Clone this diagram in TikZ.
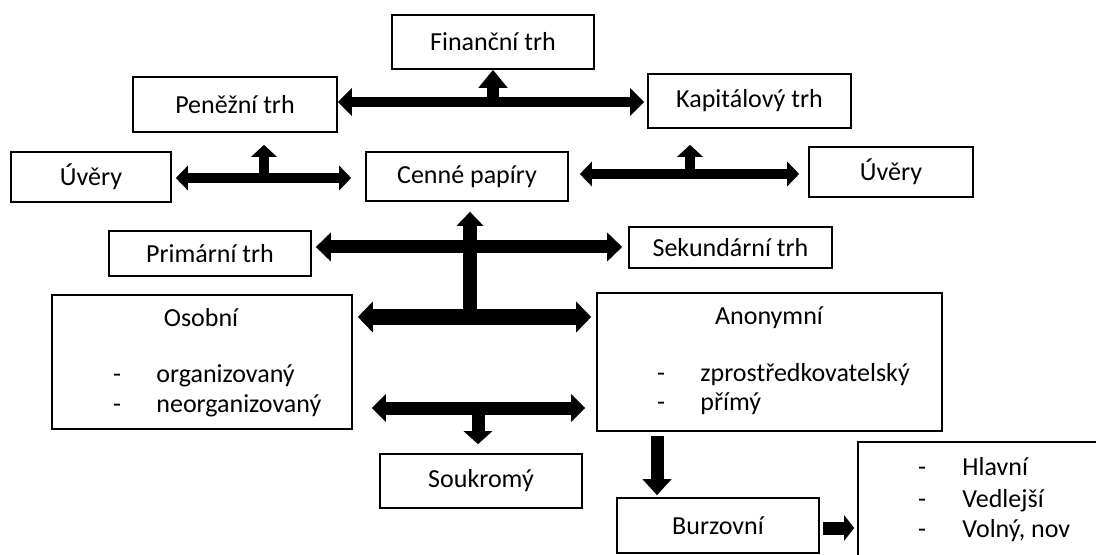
\documentclass[tikz,border=0pt]{standalone}
\usepackage{fontspec}
\setmainfont{Carlito}
\usetikzlibrary{arrows.meta}

\tikzset{
    trhbox/.style={draw, line width=0.8pt, inner sep=0pt, font=\fontsize{13}{15}\selectfont},
    trhtext/.style={inner sep=0pt, font=\fontsize{13}{15}\selectfont},
    trhboth/.style n args={3}{line width=#1pt, {Triangle[width=#2pt,length=#3pt]}-{Triangle[width=#2pt,length=#3pt]}},
    trhone/.style n args={3}{line width=#1pt, -{Triangle[width=#2pt,length=#3pt]}},
}
% box from its two corners (pixels of the sketch)
\newcommand{\trhBox}[6]{%
    \node[trhbox, minimum width={(#4-#2)/2}, minimum height={(#5-#3)/2}] (#1) at ({(#2+#4)/2},{(#3+#5)/2}) {#6};
}

\begin{document}
\begin{tikzpicture}[x=0.5pt, y=-0.5pt]
    \useasboundingbox (0,0) rectangle (1096,555);
    \clip (0,0) rectangle (1096,555);

    \trhBox{financni}{392}{15}{594}{69}{Finanční trh}
    \trhBox{penezni}{133}{77}{337}{132}{Peněžní trh}
    \trhBox{kapital}{648}{74}{851}{128}{Kapitálový trh}
    \trhBox{uverL}{11}{152}{171}{202}{Úvěry}
    \trhBox{cenne}{366}{152}{568}{201}{Cenné papíry}
    \trhBox{uverR}{809}{147}{973}{197}{Úvěry}
    \trhBox{primar}{109}{231}{311}{276}{Primární trh}
    \trhBox{sekund}{629}{227}{832}{268}{Sekundární trh}
    \trhBox{osobni}{52}{295}{352}{429}{}
    \trhBox{anonym}{597}{293}{942}{431}{}
    \trhBox{soukrom}{380}{454}{582}{508}{Soukromý}
    \trhBox{burzov}{617}{498}{819}{553}{Burzovní}
    \trhBox{typy}{858}{442}{1120}{580}{}

    % texts of the big boxes
    \node[trhtext, anchor=base] (osobniT) at (201,327) {Osobní};
    \foreach \n/\y/\t in {1/382/organizovaný, 2/412/neorganizovaný} {
        \node[trhtext, anchor=base] (osobniD\n) at (117,\y) {-};
        \node[trhtext, anchor=base west] (osobni\n) at (156,\y) {\t};
    }
    \node[trhtext, anchor=base] (anonymT) at (769,325) {Anonymní};
    \foreach \n/\y/\t in {1/381/zprostředkovatelský, 2/410/přímý} {
        \node[trhtext, anchor=base] (anonymD\n) at (661,\y) {-};
        \node[trhtext, anchor=base west] (anonym\n) at (700,\y) {\t};
    }
    \foreach \n/\y/\t in {1/475/Hlavní, 2/507/Vedlejší, 3/537/{Volný, nov}} {
        \node[trhtext, anchor=base] (typyD\n) at (922,\y) {-};
        \node[trhtext, anchor=base west] (typy\n) at (962,\y) {\t};
    }

    % top level
    \coordinate (topbar) at (493,102);
    \draw[trhboth={5}{13.5}{7}] (topbar -| penezni.east) -- ([xshift=-1.5pt]topbar -| kapital.west);
    \draw[trhone={6}{14}{9}] (topbar) -- (topbar |- financni.south);

    % loans -- securities -- loans
    \coordinate (leftbar) at (264,178);
    \draw[trhboth={5}{12}{6}] ([xshift=2pt]leftbar -| uverL.east) -- ([xshift=-7pt]leftbar -| cenne.west);
    \draw[trhone={5}{12.5}{6}] (leftbar) -- ([yshift=-6pt]leftbar |- penezni.south);
    \coordinate (rightbar) at (690,174);
    \draw[trhboth={5}{12}{6}] ([xshift=5.5pt]rightbar -| cenne.east) -- ([xshift=-4.5pt]rightbar -| uverR.west);
    \draw[trhone={5}{12.5}{6}] (rightbar) -- ([yshift=-8pt]rightbar |- kapital.south);

    % primary -- secondary
    \coordinate (primbar) at (470,247);
    \draw[trhboth={6.5}{14}{7.5}] ([xshift=2pt]primbar -| primar.east) -- ([xshift=-3pt]primbar -| sekund.west);

    % personal -- anonymous
    \coordinate (osobbar) at (470,317);
    \draw[trhboth={8}{15}{7.5}] ([xshift=2.5pt]osobbar -| osobni.east) -- ([xshift=-2.5pt]osobbar -| anonym.west);
    \draw[trhone={7}{13}{7}] (osobbar) -- ([yshift=-5pt]osobbar |- cenne.south);
    \coordinate (soukbar) at (478,408);
    \draw[trhboth={6.5}{13.5}{7}] ([xshift=9.5pt]soukbar -| osobni.east) -- ([xshift=-5.5pt]soukbar -| anonym.west);
    \draw[trhone={6.5}{14}{6.5}] (soukbar) -- ([yshift=4.5pt]soukbar |- soukrom.north);

    % exchange
    \coordinate (burzbar) at (657,432);
    \draw[trhone={6.5}{14}{8}] ([yshift=-2pt]burzbar) -- ([yshift=1pt]burzbar |- burzov.north);
    \coordinate (typbar) at (822,528);
    \draw[trhone={6.5}{12.5}{5}] ([xshift=1.5pt]typbar -| burzov.east) -- ([xshift=-1.5pt]typbar -| typy.west);
\end{tikzpicture}
\end{document}
